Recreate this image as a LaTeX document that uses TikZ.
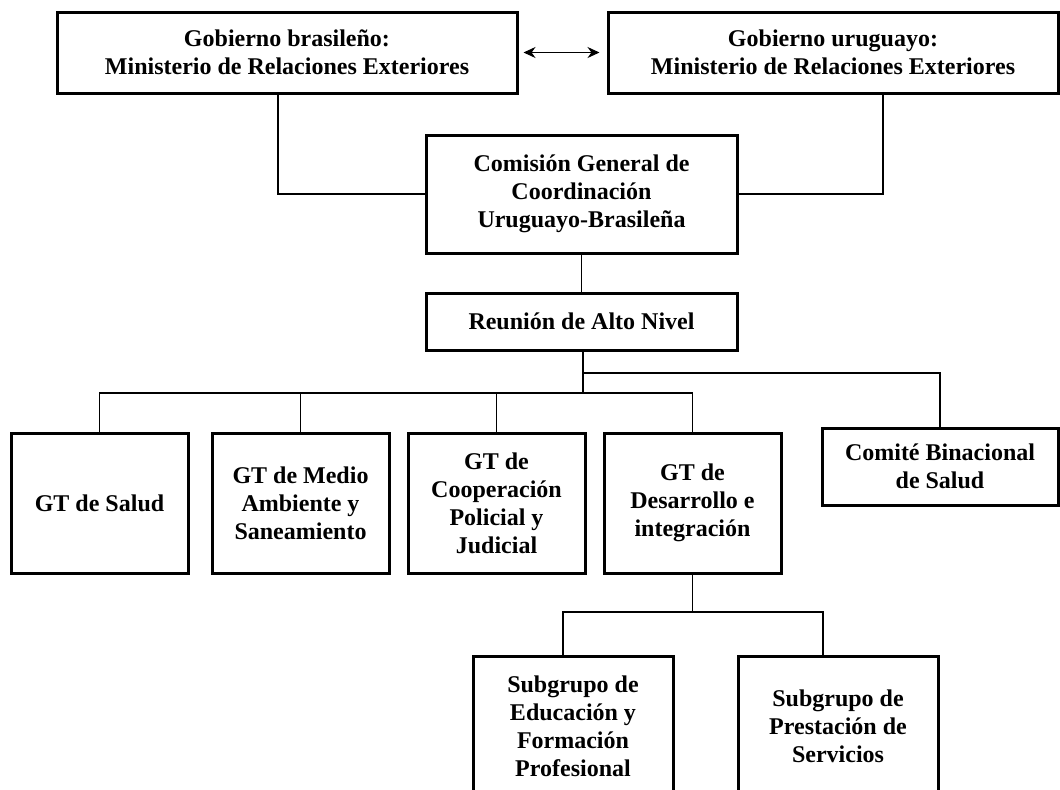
\documentclass[tikz,border=0pt]{standalone}
\usepackage{fontspec}
\setmainfont{Liberation Serif}
\usetikzlibrary{arrows.meta}

\begin{document}
\begin{tikzpicture}[x=0.5pt, y=-0.5pt,
  box/.style={draw, line width=1.5pt, align=center, inner sep=0pt,
    font=\bfseries\fontsize{12}{14}\selectfont},
  gtbox/.style={box, minimum width=88.5pt, minimum height=70pt},
  conn/.style={line width=0.65pt}]
  \useasboundingbox (0,0) rectangle (1060,789);
  \clip (0,0) rectangle (1060,789);
  \fill[white] (0,0) rectangle (1060,789);

  \node[box, minimum width=230pt, minimum height=40.5pt] (brasil) at (287,52.5)
    {Gobierno brasileño:\\ Ministerio de Relaciones Exteriores};
  \node[box, minimum width=225pt, minimum height=40.5pt] (uruguay) at (833,52.5)
    {Gobierno uruguayo:\\ Ministerio de Relaciones Exteriores};
  \node[box, minimum width=155.5pt, minimum height=59pt] (comision) at (581.5,194)
    {Comisión General de\\ Coordinación\\ Uruguayo-Brasileña};
  \node[box, minimum width=155.5pt, minimum height=28.5pt] (reunion) at (581.5,321.5)
    {Reunión de Alto Nivel};

  \node[gtbox] (salud) at (99.5,503) {GT de Salud};
  \node[gtbox] (medio) at (300.5,503) {GT de Medio\\ Ambiente y\\ Saneamiento};
  \node[gtbox] (coop) at (496.5,503) {GT de\\ Cooperación\\ Policial y\\ Judicial};
  \node[gtbox] (desarrollo) at (692.5,503) {GT de\\ Desarrollo e\\ integración};
  \node[box, minimum width=118pt, minimum height=38.5pt] (comite) at (940,466.5)
    {Comité Binacional\\ de Salud};

  \node[box, minimum width=100pt, minimum height=70pt] (sub1) at (573,726)
    {Subgrupo de\\ Educación y\\ Formación\\ Profesional};
  \node[box, minimum width=100pt, minimum height=70pt] (sub2) at (838,726)
    {Subgrupo de\\ Prestación de\\ Servicios};

  \coordinate (b1) at (583,373);
  \coordinate (b2) at (583,393);
  \coordinate (b3) at (692.5,612);

  \draw[conn, {Stealth[length=6pt,width=5.5pt]}-{Stealth[length=6pt,width=5.5pt]},
    shorten <=2.5pt, shorten >=3.5pt] (brasil.east) -- (uruguay.west);
  \draw[conn] ([xshift=-4.5pt]brasil.south) |- (comision.west);
  \draw[conn] ([xshift=25pt]uruguay.south) |- (comision.east);
  \draw[conn] (comision.south) -- (reunion.north);
  \draw[conn] (reunion.south -| b2) -- (b2);
  \draw[conn] (b1) -| (comite.north);
  \draw[conn] (salud.north) |- (b2) -| (desarrollo.north);
  \draw[conn] (medio.north) -- (medio.north |- b2);
  \draw[conn] (coop.north) -- (coop.north |- b2);
  \draw[conn] (desarrollo.south) -- (b3);
  \draw[conn] ([xshift=-5pt]sub1.north) |- (b3) -| ([xshift=-7.5pt]sub2.north);
\end{tikzpicture}
\end{document}
